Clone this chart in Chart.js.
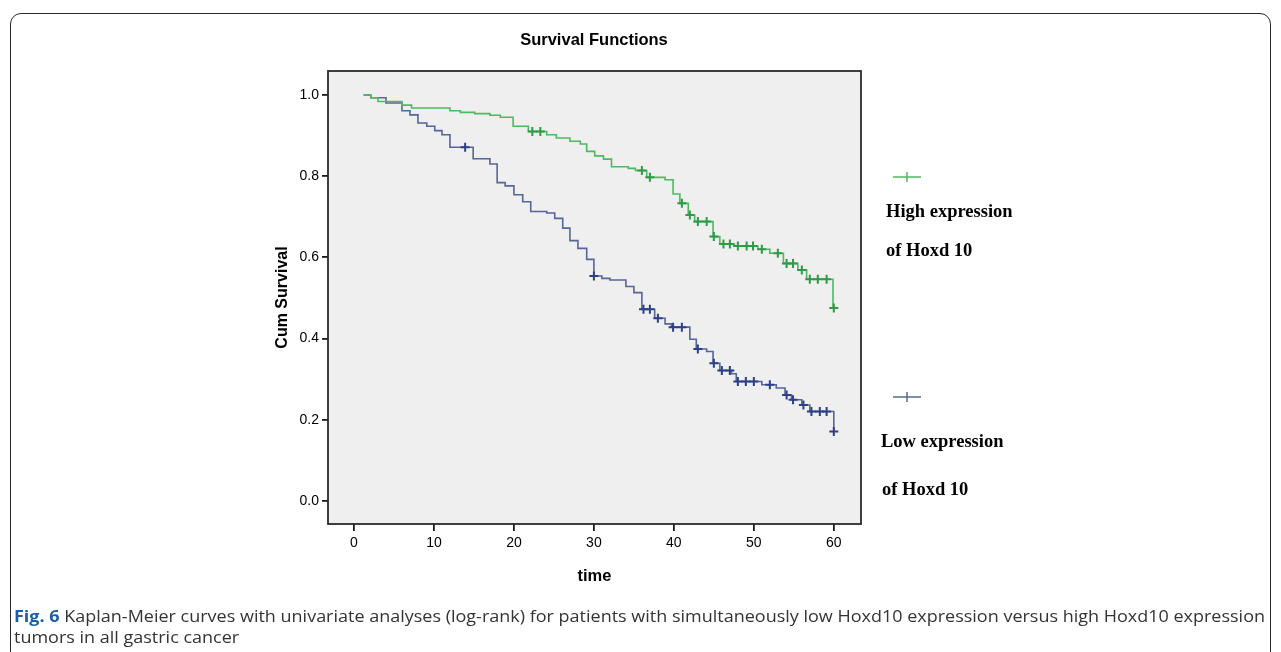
<!DOCTYPE html>
<html><head><meta charset="utf-8">
<script src="https://cdn.jsdelivr.net/npm/chart.js@4.4.1/dist/chart.umd.min.js"></script>
<style>
html,body{margin:0;padding:0;background:#fff;width:1281px;height:652px;overflow:hidden;position:relative;font-family:"Liberation Sans",Arial,sans-serif;}
#frame{position:absolute;left:10px;top:13px;width:1261px;height:700px;border:1.6px solid #2a2a2a;border-radius:11px;box-sizing:border-box;}
#c{position:absolute;left:0;top:0;}
.t{position:absolute;white-space:nowrap;}
#title{left:594px;top:30px;transform:translateX(-50%);font-weight:bold;font-size:16.5px;color:#000;}
.leg{font-family:"Liberation Serif","Times New Roman",serif;font-weight:bold;font-size:18.5px;color:#000;line-height:20px;}
.cap{font-family:"Open Sans","Liberation Sans",sans-serif;font-size:16.5px;color:#333;line-height:20px;transform-origin:0 50%;}
.cap b{color:#1d5ea8;font-weight:bold;}
svg.cross{position:absolute;}
</style>
</head><body>
<div id="frame"></div>
<canvas id="c" width="1281" height="652"></canvas>
<div class="t" id="title">Survival Functions</div>

<svg class="cross" style="left:891px;top:169px" width="32" height="16"><line x1="2" y1="8" x2="30" y2="8" stroke="#4fb862" stroke-width="1.5"/><line x1="16" y1="3" x2="16" y2="13" stroke="#4fb862" stroke-width="1.5"/></svg>
<div class="t leg" style="left:886px;top:201px">High expression</div>
<div class="t leg" style="left:886px;top:240px">of Hoxd 10</div>
<svg class="cross" style="left:891px;top:389px" width="32" height="16"><line x1="2" y1="8" x2="30" y2="8" stroke="#5a6890" stroke-width="1.5"/><line x1="16" y1="3" x2="16" y2="13" stroke="#5a6890" stroke-width="1.5"/></svg>
<div class="t leg" style="left:881px;top:431px">Low expression</div>
<div class="t leg" style="left:882px;top:479px">of Hoxd 10</div>

<div class="t cap" id="cap1" style="left:14px;top:606px"><b>Fig. 6</b> Kaplan-Meier curves with univariate analyses (log-rank) for patients with simultaneously low Hoxd10 expression versus high Hoxd10 expression</div>
<div class="t cap" id="cap2" style="left:14px;top:627px">tumors in all gastric cancer</div>

<script>
// ---- data ----
const xTicks = [0, 10, 20, 30, 40, 50, 60];
const yTicks = [0.0, 0.2, 0.4, 0.6, 0.8, 1.0];

const highTimes = [1.2, 2.1, 3.0, 6.0, 7.2, 12.0, 13.3, 15.1, 17.0, 18.3, 19.9, 21.8, 24.1, 25.3, 27.0, 28.3, 29.1, 30.1, 31.2, 32.2, 34.3, 35.2, 36.6, 38.9, 39.9, 40.75, 41.8, 42.6, 44.9, 45.75, 47.5, 50.5, 52.0, 53.7, 55.5, 56.6, 59.9, 60.0];
const highSurv  = [1.0, 0.993, 0.984, 0.975, 0.968, 0.961, 0.957, 0.954, 0.950, 0.945, 0.923, 0.910, 0.902, 0.894, 0.886, 0.879, 0.861, 0.850, 0.842, 0.823, 0.819, 0.814, 0.797, 0.791, 0.756, 0.733, 0.704, 0.688, 0.651, 0.633, 0.628, 0.620, 0.610, 0.585, 0.569, 0.546, 0.475, 0.475];
const highCensTimes = [22.3, 23.3, 36.0, 37.0, 41.0, 42.0, 43.0, 44.1, 45.0, 46.2, 47.0, 48.0, 49.1, 49.9, 51.0, 53.0, 54.1, 54.9, 56.0, 57.0, 58.0, 59.1, 60.0];
const highCensSurv  = [0.910, 0.910, 0.814, 0.797, 0.733, 0.704, 0.688, 0.688, 0.651, 0.633, 0.633, 0.628, 0.628, 0.628, 0.620, 0.610, 0.585, 0.585, 0.569, 0.546, 0.546, 0.546, 0.475];

const lowTimes = [1.2, 2.1, 4.0, 6.0, 7.0, 8.0, 9.1, 10.1, 11.0, 12.0, 14.9, 17.0, 17.9, 18.9, 20.0, 21.1, 22.1, 24.1, 25.1, 26.1, 27.0, 28.0, 29.1, 30.0, 31.0, 32.0, 34.0, 35.0, 36.0, 37.6, 38.9, 39.7, 42.0, 42.8, 44.1, 44.9, 45.75, 47.2, 47.8, 51.0, 52.8, 53.9, 54.7, 56.0, 57.0, 60.0];
const lowSurv  = [1.0, 0.993, 0.980, 0.961, 0.951, 0.931, 0.923, 0.912, 0.902, 0.871, 0.843, 0.830, 0.784, 0.776, 0.754, 0.737, 0.713, 0.709, 0.696, 0.672, 0.641, 0.622, 0.595, 0.554, 0.548, 0.544, 0.528, 0.513, 0.472, 0.450, 0.436, 0.428, 0.398, 0.374, 0.368, 0.339, 0.321, 0.313, 0.294, 0.286, 0.278, 0.261, 0.249, 0.236, 0.220, 0.171];
const lowCensTimes = [13.9, 30.0, 36.2, 37.0, 38.0, 39.9, 41.0, 43.0, 45.0, 46.0, 47.0, 48.0, 49.0, 50.0, 52.0, 54.1, 54.9, 56.2, 57.2, 58.25, 59.1, 60.0];
const lowCensSurv  = [0.871, 0.554, 0.472, 0.472, 0.450, 0.428, 0.428, 0.374, 0.339, 0.321, 0.321, 0.294, 0.294, 0.294, 0.286, 0.261, 0.249, 0.236, 0.220, 0.220, 0.220, 0.171];

const pts = (xs, ys) => xs.map((x, i) => ({x: x, y: ys[i]}));

const frameBg = {
  id: 'frameBg',
  beforeDatasetsDraw(chart) {
    const {ctx, chartArea: a} = chart;
    ctx.save();
    ctx.fillStyle = '#efefef';
    ctx.fillRect(a.left, a.top, a.right - a.left, a.bottom - a.top);
    ctx.restore();
  },
  afterDraw(chart) {
    const {ctx, chartArea: a} = chart;
    ctx.save();
    ctx.strokeStyle = '#2a2a2a';
    ctx.lineWidth = 1.8;
    ctx.strokeRect(a.left, a.top, a.right - a.left, a.bottom - a.top);
    ctx.restore();
  }
};

new Chart(document.getElementById('c'), {
  type: 'line',
  data: {
    datasets: [
      {label: 'High', data: pts(highTimes, highSurv), stepped: 'before', borderColor: '#4fb862', borderWidth: 1.6, pointRadius: 0, fill: false, order: 2},
      {label: 'Low', data: pts(lowTimes, lowSurv), stepped: 'before', borderColor: '#56659a', borderWidth: 1.6, pointRadius: 0, fill: false, order: 2},
      {label: 'HighC', type: 'scatter', data: pts(highCensTimes, highCensSurv), showLine: false, pointStyle: 'cross', pointRadius: 4.5, borderWidth: 2, borderColor: '#2f9a45', backgroundColor: '#2f9a45', order: 1},
      {label: 'LowC', type: 'scatter', data: pts(lowCensTimes, lowCensSurv), showLine: false, pointStyle: 'cross', pointRadius: 4.5, borderWidth: 2, borderColor: '#2c3f88', backgroundColor: '#2c3f88', order: 1}
    ]
  },
  options: {
    responsive: false,
    animation: false,
    layout: {padding: {left: 270, right: 420, top: 71, bottom: 62}},
    plugins: {legend: {display: false}, tooltip: {enabled: false}, title: {display: false}},
    scales: {
      x: {
        type: 'linear', min: -3.25, max: 63.4,
        afterBuildTicks: s => { s.ticks = xTicks.map(v => ({value: v})); },
        afterFit: s => { s.height = 66; },
        grid: {display: true, drawOnChartArea: false, drawTicks: true, tickLength: 7, color: '#1a1a1a', lineWidth: 1.8},
        border: {display: false},
        ticks: {color: '#000', font: {size: 14, family: 'Liberation Sans'}, padding: 4, maxRotation: 0, callback: v => String(v)},
        title: {display: true, text: 'time', color: '#000', font: {size: 16.5, weight: 'bold', family: 'Liberation Sans'}, padding: {top: 4, bottom: 4}}
      },
      y: {
        type: 'linear', min: -0.057, max: 1.059,
        afterBuildTicks: s => { s.ticks = yTicks.map(v => ({value: v})); },
        afterFit: s => { s.width = 58; },
        grid: {display: true, drawOnChartArea: false, drawTicks: true, tickLength: 6, color: '#1a1a1a', lineWidth: 1.8},
        border: {display: false},
        ticks: {color: '#000', font: {size: 14, family: 'Liberation Sans'}, padding: 3, callback: v => Number(v).toFixed(1)},
        title: {display: true, text: 'Cum Survival', color: '#000', font: {size: 16, weight: 'bold', family: 'Liberation Sans'}, padding: {top: 3, bottom: 4}}
      }
    }
  },
  plugins: [frameBg]
});

// fit caption first line to the reference width
const c1 = document.getElementById('cap1');
const w = c1.getBoundingClientRect().width;
const k = 1251 / w;
c1.style.transform = 'scaleX(' + k + ')';
document.getElementById('cap2').style.transform = 'scaleX(' + k + ')';
</script>
</body></html>
